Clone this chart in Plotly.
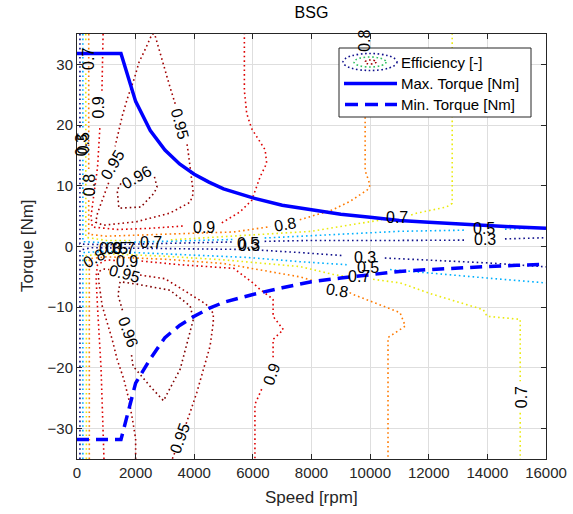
import plotly.graph_objects as go

# ---------------- data ----------------
torque_speed = [0, 1500, 2000, 2500, 3000, 3500, 4000, 4500, 5000, 5500, 6000, 7000,
                8000, 9000, 10000, 11000, 12000, 13000, 14000, 15000, 16000]
max_torque = [31.8, 31.8, 23.9, 19.1, 15.9, 13.6, 11.9, 10.6, 9.5, 8.7, 8.0, 6.8,
              6.0, 5.3, 4.8, 4.3, 4.0, 3.7, 3.4, 3.2, 3.0]
min_torque = [-31.8, -31.8, -22.5, -18.5, -15.0, -13.0, -11.5, -10.2, -9.2, -8.5, -7.9, -6.8,
              -5.8, -5.2, -4.6, -4.1, -3.8, -3.5, -3.3, -3.1, -2.9]

N = None
# efficiency contour lines (speed [rpm], torque [Nm]); None = break (label / separate piece)
eff03_speed = [100, 100, N, 100, 100, 1000, 3000, 5300, N, 6400, 8000, 11000, 13300, N, 14600, 16000,
               N, 100, 100, 500, 3000, 5900, 7600, 9080, N, 10500, 14000, 16000]
eff03_torque = [35, 19.2, N, 14.3, 0.4, 0.3, 0.5, 0.75, N, 0.85, 1.0, 1.0, 1.05, N, 1.25, 1.45,
                N, -35, -0.6, -0.2, -0.3, -0.5, -1.0, -1.5, N, -1.9, -2.7, -3.35]

eff05_speed = [200, 200, N, 200, 200, 1000, 3000, 5300, N, 6400, 8000, 10000, 11000, 13300, N, 14600, 16000,
               N, 200, 200, 1000, 3000, 5800, 7600, 9200, N, 10680, 12500, 14000, 16000]
eff05_torque = [35, 19.2, N, 14.3, 0.8, 0.6, 0.8, 1.15, N, 1.4, 1.8, 2.2, 2.5, 2.7, N, 2.85, 3.1,
                N, -35, -1.0, -0.8, -1.2, -1.8, -2.5, -3.0, N, -3.8, -4.6, -5.2, -6.0]

eff07_speed = [300, 300, N, 300, 300, 1000, 1900, N, 3200, 4650, 6500, 8000, 9000, 10000, 10400, N,
               11400, 11600, 12600, 12800, 12800,
               N, 320, 320, 1000, 3000, 5000, 7000, 7600, 8740, 9100, N, 10100, 10240, 11020, 12150,
               13860, 13990, 15120, 15120, N, 15120, 15120]
eff07_torque = [35, 33.6, N, 28.5, 1.5, 1.0, 1.0, N, 1.1, 1.5, 2.0, 2.5, 3.3, 4.1, 4.4, N,
                5.2, 5.5, 6.5, 7.1, 35,
                N, -35, -1.5, -1.2, -1.6, -2.2, -3.0, -3.3, -4.6, -4.9, N, -5.4, -5.5, -6.0, -7.9,
                -10.4, -11.5, -12.0, -22.2, N, -27.4, -35]

eff08_speed = [400, 400, N, 400, 400, 1000, 3000, 5350, 6500, 6600, N, 7600, 8700, 9300, 9900, 10000,
               9830, 9830,
               N, 420, 420, 1000, 3000, 5000, 6500, 7600, 8100, N, 9300, 9420, 10440, 11020, 11200,
               10610, 10610]
eff08_torque = [35, 12.6, N, 7.6, 2.0, 1.7, 2.0, 2.4, 3.2, 3.3, N, 4.4, 6.0, 7.4, 9.3, 10.1,
                12.5, 32.0,
                N, -35, -2.0, -1.7, -2.1, -2.8, -4.0, -5.0, -5.7, N, -7.6, -7.9, -9.8, -10.9, -13.1,
                -15.0, -35]

eff09_speed = [890, 850, N, 780, 700, 560, 480, 520, 1400, 2500, 3700, N, 4940, 5560, 5960, 6250, 6470,
               6420, 6130, 5960, 5790, 5710, 5710,
               N, 920, 820, 700, 650, 700, 1000, 1300, N, 2200, 3500, 5350, 6000, 6250, 6690, 6690,
               7040, 6690, 6690, N, 6300, 6070, 6070]
eff09_torque = [35, 25.5, N, 19.5, 13, 8, 5, 3.2, 2.8, 3.0, 3.4, N, 3.9, 5.7, 7.6, 11.5, 13.7,
                15.9, 18.1, 19.4, 21.9, 25.7, 35,
                N, -35, -20, -10, -5, -3.0, -2.2, -2.3, N, -2.4, -3.0, -3.6, -6.0, -7.1, -8.7, -11.5,
                -13.7, -15.3, -18.5, N, -23.5, -26, -35]

eff095_speed = [2620, 2560, 2340, 2120, 1950, 1720, 1550, 1380, 1300, N, 1080, 900, 700, 640, 900, 2040,
                3170, 3860, 3970, 3800, 3750, N, 3350, 3170, 2660, 2620,
                N, 2000, 2000, 1890, 1770, 1600, 1370, 1200, 1030, 860, 750, 720, 900, 1100, N,
                2150, 3000, 3740, 4400, 4650, 4650, 4540, 4310, 4090, 3860, 3700, N, 3330, 3250]
eff095_torque = [35, 35, 32.6, 30.4, 27.6, 24.4, 21.6, 18.3, 16.5, N, 10.5, 8.0, 5.5, 4.0, 3.5, 4.1,
                 5.5, 7.3, 8.75, 15.3, 17.0, N, 23.5, 26.3, 34.8, 35,
                 N, -35, -31.7, -28.4, -25.2, -21.9, -18.6, -15.3, -12.6, -9.8, -6.0, -4.2, -3.7, -3.8, N,
                 -4.7, -5.3, -7.5, -9.5, -11, -12.5, -16.4, -20.2, -24, -27.3, -29.5, N, -34, -35]

eff096_speed = [1500, 1370, 1430, 2180, 2630, 2730, 2620,
                N, 1550, 1400, 1470, 2040, 3170, 3860, 3970, 3520, 2950, 2490, 1910, 1850]
eff096_torque = [10.4, 9.3, 6.3, 6.5, 8.8, 9.8, 11.9,
                 N, -10.5, -8.0, -5.8, -6.2, -7.2, -9.8, -12, -20.2, -25.4, -23, -19.7, -17.5]

levels = ["0.3", "0.5", "0.7", "0.8", "0.9", "0.95", "0.96"]
level_colors = ["#10108c", "#00b0ff", "#eaea10", "#ff7a00", "#dc0000", "#a00000", "#800000"]

# contour labels
label_text = ["0.7", "0.9", "0.3", "0.5", "0.8", "0.95", "0.96", "0.95", "0.9", "0.8", "0.8",
              "0.7", "0.5", "0.3", "0.7", "0.5", "0.3",
              "0.3", "0.5", "0.7", "0.8", "0.9", "0.95",
              "0.3", "0.5", "0.7", "0.8", "0.9", "0.95", "0.96", "0.7"]
label_speed = [410, 717, 137, 205, 410, 1195, 2014, 3515, 4335, 7100, 9830,
               10920, 13890, 13925, 2525, 5836, 5870,
               1126, 1365, 1604, 580, 1707, 1604,
               9830, 9930, 9625, 8874, 6620, 3515, 1740, 15154]
label_torque = [30.9, 22.9, 16.7, 17.0, 10.1, 13.4, 11.4, 20.3, 3.2, 3.7, 33.9,
                4.7, 2.9, 1.1, 0.6, 0.44, 0.1,
                -0.4, -0.4, -0.4, -2.0, -2.5, -4.4,
                -1.85, -3.5, -5.0, -7.3, -21.0, -31.7, -14.0, -24.8]
label_angle = [-90, -90, -90, -90, -90, -60, -30, 75, 0, -10, -90,
               0, 0, 0, 0, 0, 0,
               0, 0, 0, -30, 0, 15,
               0, 0, 0, 10, -70, -70, 70, -90]

# ---------------- figure ----------------
W, H = 573, 514
L, R, T, B = 77, 546, 34, 459
FONT = "Liberation Sans, Arial, Helvetica, sans-serif"
INK = "#262626"


def pxx(x):
    return (x - L) / (R - L)


def pxy(y):
    return (B - y) / (B - T)


fig = go.Figure()

contours = [
    (eff03_speed, eff03_torque), (eff05_speed, eff05_torque), (eff07_speed, eff07_torque),
    (eff08_speed, eff08_torque), (eff09_speed, eff09_torque), (eff095_speed, eff095_torque),
    (eff096_speed, eff096_torque),
]
for (sx, sy), lev, col in zip(contours, levels, level_colors):
    fig.add_trace(go.Scatter(x=sx, y=sy, mode="lines", name=lev, showlegend=False,
                             line=dict(color=col, width=1.6, dash="1.6px,3px"),
                             hoverinfo="skip"))

fig.add_trace(go.Scatter(x=torque_speed, y=max_torque, mode="lines", name="Max. Torque [Nm]",
                         showlegend=False, line=dict(color="#0000ff", width=3.5)))
fig.add_trace(go.Scatter(x=torque_speed, y=min_torque, mode="lines", name="Min. Torque [Nm]",
                         showlegend=False, line=dict(color="#0000ff", width=3.5, dash="12px,7px")))

annotations = []
for t, sx, sy, a in zip(label_text, label_speed, label_torque, label_angle):
    annotations.append(dict(x=sx, y=sy, xref="x", yref="y", text=t, showarrow=False,
                            xanchor="center", yanchor="middle",
                            textangle=a, font=dict(family=FONT, size=16, color="black")))

# axis titles
annotations.append(dict(x=0.5, y=pxy(497), xref="paper", yref="paper", text="Speed [rpm]",
                        xanchor="center", yanchor="middle",
                        showarrow=False, font=dict(family=FONT, size=17, color=INK)))
annotations.append(dict(x=pxx(28), y=pxy(246), xref="paper", yref="paper", text="Torque [Nm]",
                        xanchor="center", yanchor="middle",
                        textangle=-90, showarrow=False, font=dict(family=FONT, size=17, color=INK)))

# manual legend
shapes = []
shapes.append(dict(type="rect", xref="paper", yref="paper", x0=pxx(339), x1=pxx(531),
                   y0=pxy(117), y1=pxy(48), line=dict(color=INK, width=1), fillcolor="white",
                   layer="above"))
ell = [((343, 397, 53.5, 70.5), "#10108c"), ((354, 386, 57, 67), "#30c060"), ((365, 376, 60, 64), "#a00000")]
for (x0, x1, y0, y1), c in ell:
    shapes.append(dict(type="circle", xref="paper", yref="paper", x0=pxx(x0), x1=pxx(x1),
                       y0=pxy(y1), y1=pxy(y0), line=dict(color=c, width=1.6, dash="1.6px,2.6px"),
                       layer="above"))
shapes.append(dict(type="line", xref="paper", yref="paper", x0=pxx(344), x1=pxx(397),
                   y0=pxy(83.5), y1=pxy(83.5), line=dict(color="#0000ff", width=3.5), layer="above"))
shapes.append(dict(type="line", xref="paper", yref="paper", x0=pxx(345), x1=pxx(397),
                   y0=pxy(104.5), y1=pxy(104.5), line=dict(color="#0000ff", width=3.5, dash="13px,7px"),
                   layer="above"))
for txt, yy in [("Efficiency [-]", 62.5), ("Max. Torque [Nm]", 83.5), ("Min. Torque [Nm]", 104.5)]:
    annotations.append(dict(x=pxx(399), y=pxy(yy), xref="paper", yref="paper", text=txt,
                            xanchor="left", yanchor="middle", showarrow=False,
                            font=dict(family=FONT, size=15, color="black")))

axis_common = dict(showgrid=True, gridcolor="#dedede", gridwidth=1, zeroline=False,
                   showline=True, linecolor=INK, linewidth=1, mirror="ticks",
                   ticks="inside", ticklen=5, tickcolor=INK, tickformat="d", automargin=False,
                   tickfont=dict(family=FONT, size=15, color=INK))

fig.update_layout(
    width=W, height=H,
    margin=dict(l=L, r=W - R, t=T, b=H - B, pad=0, autoexpand=False),
    paper_bgcolor="white", plot_bgcolor="white",
    title=dict(text="BSG", x=pxx(311.5), xref="paper", xanchor="center",
               y=1 - 12 / H, yref="container", yanchor="middle", automargin=False,
               font=dict(family=FONT, size=16, color="black")),
    xaxis=dict(range=[0, 16000], dtick=2000, tick0=0, **axis_common),
    yaxis=dict(range=[-35, 35], dtick=10, tick0=0, **axis_common),
    showlegend=False,
    annotations=annotations,
    shapes=shapes,
)

fig.write_html("out.html", config={"displayModeBar": False},
               post_script="document.body.style.margin='0';document.body.style.overflow='hidden';")
